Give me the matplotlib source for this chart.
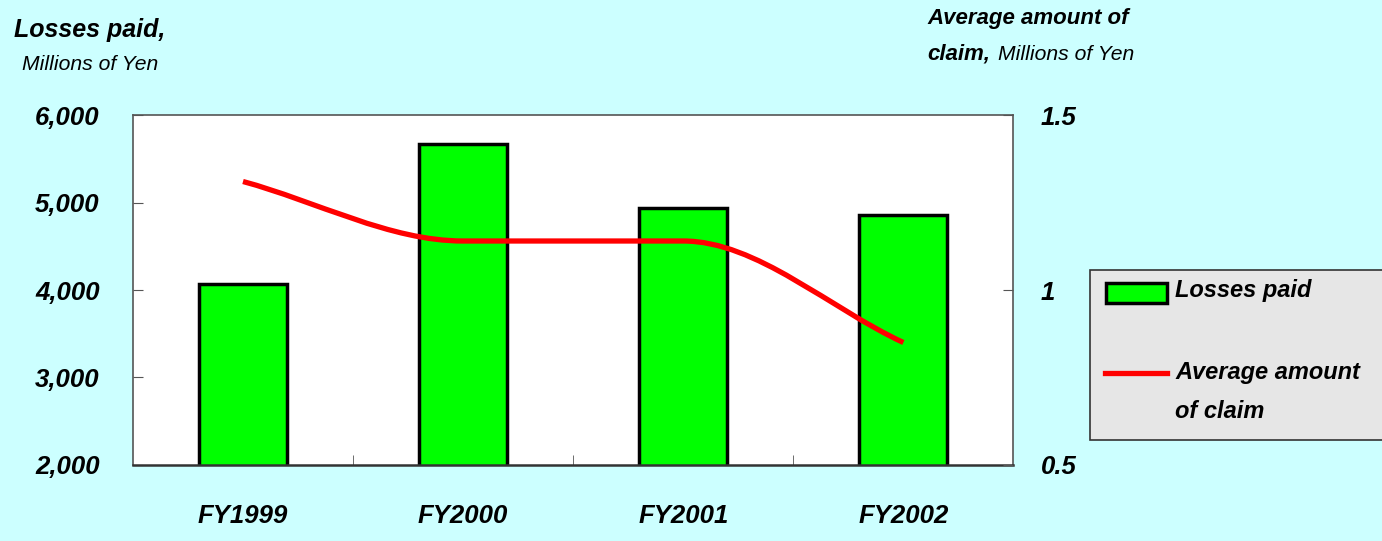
import numpy as np
import matplotlib.pyplot as plt
from matplotlib.path import Path
from matplotlib.patches import PathPatch, Rectangle
from matplotlib.lines import Line2D

plt.rcParams['font.family'] = ['Liberation Sans', 'DejaVu Sans']

years = ['FY1999', 'FY2000', 'FY2001', 'FY2002']
losses_paid = [4070, 5670, 4940, 4860]
avg_claim = [1.31, 1.14, 1.14, 0.85]

bg = '#CCFFFF'
fig = plt.figure(figsize=(13.82, 5.41), dpi=100, facecolor=bg)
ax = fig.add_axes([0.0962, 0.1405, 0.6371, 0.6469])
ax.set_facecolor('white')

x = np.arange(len(years))
ax.bar(x, losses_paid, width=0.4, color='#00FF00', edgecolor='black',
       linewidth=2.5, bottom=0, zorder=2)
ax.set_xlim(-0.5, len(years) - 0.5)
ax.set_ylim(2000, 6000)
ax.set_yticks([2000, 3000, 4000, 5000, 6000])
ax.set_yticklabels([f'{v:,}' for v in [2000, 3000, 4000, 5000, 6000]])
ax.set_xticks(x)
ax.set_xticklabels(years)
ax.set_xticks(x[:-1] + 0.5, minor=True)
ax.tick_params(axis='x', which='major', length=0, pad=28)
ax.tick_params(axis='x', which='minor', direction='in', length=7, color='#555555')
ax.tick_params(axis='y', direction='in', length=7, pad=24, color='#555555')
for lab in ax.get_xticklabels() + ax.get_yticklabels():
    lab.set_fontsize(18.5)
    lab.set_fontweight('bold')
    lab.set_fontstyle('italic')
for s in ax.spines.values():
    s.set_color('#555555')
    s.set_linewidth(1.2)
ax.spines['bottom'].set_color('#333333')
ax.spines['bottom'].set_linewidth(1.8)

ax2 = ax.twinx()
ax2.set_ylim(0.5, 1.5)
ax2.set_yticks([0.5, 1.0, 1.5])
ax2.set_yticklabels(['0.5', '1', '1.5'])
ax2.tick_params(axis='y', direction='in', length=7, pad=19.5, color='#555555')
for lab in ax2.get_yticklabels():
    lab.set_fontsize(18.5)
    lab.set_fontweight('bold')
    lab.set_fontstyle('italic')
for s in ax2.spines.values():
    s.set_visible(False)

# smoothed line: cubic Bezier through the points, flat tangent where the trend turns or levels
pts = np.column_stack([x, avg_claim]).astype(float)
n = len(pts)
d = np.diff(pts[:, 1])
tang = np.zeros(n)
tang[0], tang[-1] = d[0], d[-1]
for i in range(1, n - 1):
    tang[i] = 0 if d[i - 1] * d[i] <= 0 else (d[i - 1] + d[i]) / 2
verts = [tuple(pts[0])]
codes = [Path.MOVETO]
for i in range(n - 1):
    p1, p2 = pts[i], pts[i + 1]
    c1 = (p1[0] + 1 / 3, p1[1] + tang[i] / 3)
    c2 = (p2[0] - 1 / 3, p2[1] - tang[i + 1] / 3)
    verts += [c1, c2, tuple(p2)]
    codes += [Path.CURVE4] * 3
ax2.add_patch(PathPatch(Path(verts, codes), facecolor='none', edgecolor='#FF0000',
                        linewidth=3.8, capstyle='butt', zorder=3))

# axis titles
fig.text(0.01, 0.945, 'Losses paid,', fontsize=18, fontweight='bold',
         fontstyle='italic', va='center')
fig.text(0.016, 0.88, 'Millions of Yen', fontsize=15.2, fontstyle='italic', va='center')
fig.text(0.671, 0.965, 'Average amount of', fontsize=16, fontweight='bold',
         fontstyle='italic', va='center')
fig.text(0.671, 0.9, 'claim,', fontsize=16, fontweight='bold',
         fontstyle='italic', va='center')
fig.text(0.722, 0.9, 'Millions of Yen', fontsize=15.2, fontstyle='italic', va='center')

# legend, drawn by hand inside a grey box that runs off the right edge
W, H = 1382, 541
fig.patches.append(Rectangle((1090 / W, 1 - 440 / H), 0.3, 170 / H,
                             transform=fig.transFigure, facecolor='#E6E6E6',
                             edgecolor='#333333', linewidth=1.2, zorder=0))
fig.patches.append(Rectangle((1106 / W, 1 - 303 / H), 61 / W, 20 / H,
                             transform=fig.transFigure, facecolor='#00FF00',
                             edgecolor='black', linewidth=2.5, zorder=1))
fig.lines.append(Line2D([1105 / W, 1167 / W], [1 - 373 / H, 1 - 373 / H],
                        transform=fig.transFigure, color='#FF0000', linewidth=3.8))
leg_font = dict(fontsize=17, fontweight='bold', fontstyle='italic', va='center')
fig.text(1175 / W, 1 - 291 / H, 'Losses paid', **leg_font)
fig.text(1175 / W, 1 - 373 / H, 'Average amount', **leg_font)
fig.text(1175 / W, 1 - 411 / H, 'of claim', **leg_font)

fig.savefig('out.png', dpi=100, facecolor=bg)
